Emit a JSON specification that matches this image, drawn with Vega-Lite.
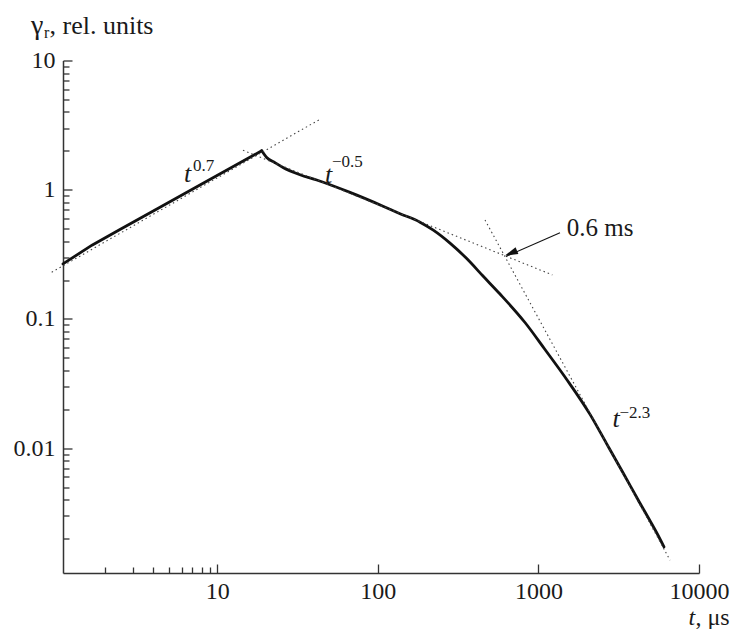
{
  "$schema": "https://vega.github.io/schema/vega-lite/v6.json",
  "autosize": {"type": "none"},
  "width": 636,
  "height": 512.5,
  "padding": {"left": 63, "top": 60.5, "right": 36, "bottom": 56},
  "background": "white",
  "config": {
    "view": {"stroke": null},
    "axis": {
      "labelFont": "Liberation Serif",
      "labelFontSize": 24,
      "labelColor": "#1a1a1a",
      "titleFont": "Liberation Serif",
      "titleColor": "#1a1a1a",
      "titleFontWeight": "normal",
      "domainColor": "#333333",
      "domainWidth": 1.5,
      "tickColor": "#333333",
      "tickWidth": 1.3,
      "grid": false
    }
  },
  "datasets": {
    "curve": [
      {"part": "rise", "t": 1.096, "g": 0.2666},
      {"part": "rise", "t": 1.661, "g": 0.372},
      {"part": "rise", "t": 2.48, "g": 0.4916},
      {"part": "rise", "t": 4.405, "g": 0.731},
      {"part": "rise", "t": 7.81, "g": 1.087},
      {"part": "rise", "t": 13.87, "g": 1.617},
      {"part": "rise", "t": 18.93, "g": 2.001},
      {"part": "decay", "t": 18.93, "g": 2.001},
      {"part": "decay", "t": 20.33, "g": 1.777},
      {"part": "decay", "t": 22.9, "g": 1.617},
      {"part": "decay", "t": 25.68, "g": 1.487},
      {"part": "decay", "t": 32.77, "g": 1.306},
      {"part": "decay", "t": 41.65, "g": 1.188},
      {"part": "decay", "t": 67.1, "g": 0.953},
      {"part": "decay", "t": 107.8, "g": 0.7456},
      {"part": "decay", "t": 137.5, "g": 0.6525},
      {"part": "decay", "t": 183.2, "g": 0.5609},
      {"part": "decay", "t": 221.6, "g": 0.4864},
      {"part": "decay", "t": 281.6, "g": 0.386},
      {"part": "decay", "t": 357.8, "g": 0.293},
      {"part": "decay", "t": 451.9, "g": 0.2146},
      {"part": "decay", "t": 576.8, "g": 0.1557},
      {"part": "decay", "t": 825.2, "g": 0.0938},
      {"part": "decay", "t": 1099, "g": 0.058},
      {"part": "decay", "t": 1501, "g": 0.034},
      {"part": "decay", "t": 2096, "g": 0.01825},
      {"part": "decay", "t": 2663, "g": 0.01079},
      {"part": "decay", "t": 3378, "g": 0.006388},
      {"part": "decay", "t": 4292, "g": 0.003744},
      {"part": "decay", "t": 4954, "g": 0.002743},
      {"part": "decay", "t": 5453, "g": 0.002214},
      {"part": "decay", "t": 6054, "g": 0.00172}
    ],
    "fits": [
      {"fit": "rise", "t": 0.932, "g": 0.2296},
      {"fit": "rise", "t": 43.6, "g": 3.506},
      {"fit": "decay", "t": 14.47, "g": 2.02},
      {"fit": "decay", "t": 1221, "g": 0.2192},
      {"fit": "fall", "t": 465.1, "g": 0.5832},
      {"fit": "fall", "t": 6598, "g": 0.001358}
    ],
    "arrow": [
      {"t": 1363, "g": 0.4653},
      {"t": 630, "g": 0.305}
    ],
    "arrowhead": [{"t": 619.5, "g": 0.309}],
    "tbase": [
      {"label": "t", "t": 6.213, "g": 1.153},
      {"label": "t", "t": 46.92, "g": 1.119},
      {"label": "t", "t": 2893, "g": 0.01456}
    ],
    "tsup": [
      {"label": "0.7", "t": 7.069, "g": 1.402},
      {"label": "−0.5", "t": 51.86, "g": 1.506},
      {"label": "−2.3", "t": 3199, "g": 0.01708}
    ],
    "note": [{"label": "0.6 ms", "t": 1501, "g": 0.441}]
  },
  "resolve": {
    "scale": {"x": "shared", "y": "shared"},
    "axis": {"x": "independent", "y": "independent"}
  },
  "layer": [
    {
      "data": {"name": "curve"},
      "transform": [{"filter": "datum.part === 'rise'"}],
      "mark": {"type": "line", "color": "#111111", "strokeWidth": 2.8, "strokeCap": "round", "clip": false},
      "encoding": {
        "x": {
          "field": "t", "type": "quantitative",
          "scale": {"type": "log", "domain": [1.096, 10000], "nice": false},
          "axis": {
            "orient": "bottom",
            "title": null,
            "values": [2, 3, 4, 5, 6, 7, 8, 9, 10, 100, 1000, 10000],
            "format": "~g",
            "labelExpr": "abs(log(datum.value)/LN10 - round(log(datum.value)/LN10)) < 0.001 ? datum.label : ''",
            "tickSize": {"condition": {"test": "abs(log(datum.value)/LN10 - round(log(datum.value)/LN10)) < 0.001", "value": -9}, "value": -6},
            "labelPadding": 15,
            "labelOverlap": false,
            "labelFlush": false
          }
        },
        "y": {
          "field": "g", "type": "quantitative",
          "scale": {"type": "log", "domain": [0.00108, 10], "nice": false},
          "axis": {
            "orient": "left",
            "title": null,
            "values": [0.002, 0.003, 0.004, 0.005, 0.006, 0.007, 0.008, 0.009, 0.01, 0.02, 0.03, 0.04, 0.05, 0.06, 0.07, 0.08, 0.09, 0.1, 0.2, 0.3, 0.4, 0.5, 0.6, 0.7, 0.8, 0.9, 1, 2, 3, 4, 5, 6, 7, 8, 9, 10],
            "format": "~g",
            "labelExpr": "abs(log(datum.value)/LN10 - round(log(datum.value)/LN10)) < 0.001 ? datum.label : ''",
            "tickSize": {"condition": {"test": "abs(log(datum.value)/LN10 - round(log(datum.value)/LN10)) < 0.001", "value": -9}, "value": -6},
            "labelPadding": 17,
            "labelOverlap": false,
            "labelFlush": false
          }
        }
      }
    },
    {
      "data": {"name": "curve"},
      "transform": [{"filter": "datum.part === 'decay'"}],
      "mark": {"type": "line", "color": "#111111", "strokeWidth": 2.8, "strokeCap": "round", "interpolate": "monotone", "clip": false},
      "encoding": {
        "x": {"field": "t", "type": "quantitative", "axis": null},
        "y": {"field": "g", "type": "quantitative", "axis": null}
      }
    },
    {
      "data": {"name": "fits"},
      "mark": {"type": "line", "color": "#444444", "strokeWidth": 1.1, "strokeDash": [1.5, 3], "clip": false},
      "encoding": {
        "detail": {"field": "fit"},
        "x": {
          "field": "t", "type": "quantitative",
          "axis": {"orient": "bottom", "title": "t", "titleFontStyle": "italic", "titleFontSize": 24, "titleX": 625, "titleY": 51.5, "titleAlign": "left", "titleBaseline": "alphabetic", "titleAngle": 0, "ticks": false, "labels": false, "domain": false}
        },
        "y": {
          "field": "g", "type": "quantitative",
          "axis": {"orient": "left", "title": "γ", "titleFontSize": 28, "titleX": -32.5, "titleY": -27.2, "titleAlign": "left", "titleBaseline": "alphabetic", "titleAngle": 0, "ticks": false, "labels": false, "domain": false}
        }
      }
    },
    {
      "data": {"name": "arrow"},
      "mark": {"type": "line", "color": "#111111", "strokeWidth": 1.1, "clip": false},
      "encoding": {
        "x": {
          "field": "t", "type": "quantitative",
          "axis": {"orient": "bottom", "title": ", μs", "titleFontSize": 24, "titleX": 632, "titleY": 51.5, "titleAlign": "left", "titleBaseline": "alphabetic", "titleAngle": 0, "ticks": false, "labels": false, "domain": false}
        },
        "y": {
          "field": "g", "type": "quantitative",
          "axis": {"orient": "left", "title": "r", "titleFontSize": 16, "titleX": -19.5, "titleY": -23.5, "titleAlign": "left", "titleBaseline": "alphabetic", "titleAngle": 0, "ticks": false, "labels": false, "domain": false}
        }
      }
    },
    {
      "data": {"name": "arrowhead"},
      "mark": {"type": "point", "shape": "M 0 0 L 1 -0.28 L 1 0.28 Z", "size": 676, "angle": 337, "filled": true, "color": "#111111", "opacity": 1, "clip": false},
      "encoding": {
        "x": {"field": "t", "type": "quantitative", "axis": null},
        "y": {
          "field": "g", "type": "quantitative",
          "axis": {"orient": "left", "title": ", rel. units", "titleFontSize": 26, "titleX": -14, "titleY": -27.2, "titleAlign": "left", "titleBaseline": "alphabetic", "titleAngle": 0, "ticks": false, "labels": false, "domain": false}
        }
      }
    },
    {
      "data": {"name": "tbase"},
      "mark": {"type": "text", "font": "Liberation Serif", "fontSize": 26, "fontStyle": "italic", "align": "left", "baseline": "alphabetic", "color": "#1a1a1a"},
      "encoding": {
        "text": {"field": "label"},
        "x": {"field": "t", "type": "quantitative", "axis": null},
        "y": {"field": "g", "type": "quantitative", "axis": null}
      }
    },
    {
      "data": {"name": "tsup"},
      "mark": {"type": "text", "font": "Liberation Serif", "fontSize": 17, "align": "left", "baseline": "alphabetic", "color": "#1a1a1a"},
      "encoding": {
        "text": {"field": "label"},
        "x": {"field": "t", "type": "quantitative", "axis": null},
        "y": {"field": "g", "type": "quantitative", "axis": null}
      }
    },
    {
      "data": {"name": "note"},
      "mark": {"type": "text", "font": "Liberation Serif", "fontSize": 25, "align": "left", "baseline": "alphabetic", "color": "#1a1a1a"},
      "encoding": {
        "text": {"field": "label"},
        "x": {"field": "t", "type": "quantitative", "axis": null},
        "y": {"field": "g", "type": "quantitative", "axis": null}
      }
    }
  ]
}
